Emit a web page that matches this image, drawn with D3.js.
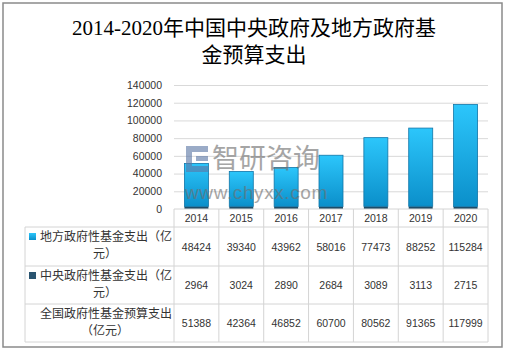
<!DOCTYPE html>
<html>
<head>
<meta charset="utf-8">
<script src="https://cdn.jsdelivr.net/npm/d3@7"></script>
<style>
  body { margin: 0; background: #fff; }
  text { font-family: "Liberation Sans", "Noto Sans CJK SC", sans-serif; fill: #333; }
</style>
</head>
<body>
<div id="chart"></div>
<script>
// chart data
const years = ["2014", "2015", "2016", "2017", "2018", "2019", "2020"];
const localFund = [48424, 39340, 43962, 58016, 77473, 88252, 115284];
const centralFund = [2964, 3024, 2890, 2684, 3089, 3113, 2715];
const totalFund = [51388, 42364, 46852, 60700, 80562, 91365, 117999];
const yTicks = [0, 20000, 40000, 60000, 80000, 100000, 120000, 140000];
const titleLines = ["2014-2020年中国中央政府及地方政府基", "金预算支出"];
const rowLabels = [
  ["地方政府性基金支出（亿", "元）"],
  ["中央政府性基金支出（亿", "元）"],
  ["全国政府性基金预算支出", "（亿元）"]
];

function draw() {
  const width = 509, height = 353;

  const svg = d3.select("#chart")
    .append("svg")
    .attr("width", width)
    .attr("height", height);

  const defs = svg.append("defs");
  const grad = defs.append("linearGradient")
    .attr("id", "barGrad")
    .attr("x1", 0).attr("y1", 0).attr("x2", 0).attr("y2", 1);
  grad.append("stop").attr("offset", "0%").attr("stop-color", "#2cc6fb");
  grad.append("stop").attr("offset", "100%").attr("stop-color", "#0b8fca");

  // outer frame
  svg.append("rect")
    .attr("x", 3).attr("y", 3)
    .attr("width", 499).attr("height", 344)
    .attr("fill", "none")
    .attr("stroke", "#8a8a8a")
    .attr("stroke-width", 1.5);

  // title
  svg.append("g")
    .selectAll("text")
    .data(titleLines)
    .join("text")
    .attr("x", 254)
    .attr("y", (d, i) => 28 + i * 27)
    .attr("text-anchor", "middle")
    .attr("dominant-baseline", "central")
    .style("font-family", "'Liberation Serif', 'Noto Sans CJK SC', serif")
    .style("font-size", "21px")
    .style("fill", "#000")
    .text(d => d);

  // scales
  const left = 174, right = 488;
  const xScale = d3.scaleBand()
    .domain(years)
    .range([left, right])
    .paddingInner(0.465)
    .paddingOuter(0.2325);

  const colScale = d3.scaleBand()
    .domain(years)
    .range([left, right]);

  const yScale = d3.scaleLinear()
    .domain([0, 140000])
    .range([209, 85]);

  // gridlines
  svg.append("g")
    .attr("transform", `translate(${left},0)`)
    .call(d3.axisRight(yScale).tickValues(yTicks.slice(1)).tickSize(right - left).tickFormat(""))
    .call(g => g.select(".domain").remove())
    .call(g => g.selectAll("line").attr("stroke", "#d9d9d9"));

  // y axis labels
  const yAxis = svg.append("g")
    .attr("transform", `translate(${left},0)`)
    .call(d3.axisLeft(yScale).tickValues(yTicks).tickSize(0).tickPadding(12).tickFormat(d3.format("d")));
  yAxis.select(".domain").remove();
  yAxis.selectAll("text")
    .style("font-size", "10.5px")
    .style("fill", "#333");

  // stacked bars: central at the bottom, local on top
  const rows = years.map((y, i) => ({ year: y, central: centralFund[i], local: localFund[i] }));
  const stacked = d3.stack().keys(["central", "local"])(rows);
  const fills = { central: "#1d4c68", local: "url(#barGrad)" };

  svg.append("g")
    .selectAll("g")
    .data(stacked)
    .join("g")
    .attr("fill", d => fills[d.key])
    .attr("stroke", d => d.key === "local" ? "#1176a8" : "none")
    .attr("stroke-width", 0.8)
    .selectAll("rect")
    .data(d => d)
    .join("rect")
    .attr("x", d => xScale(d.data.year))
    .attr("y", d => yScale(d[1]))
    .attr("width", xScale.bandwidth())
    .attr("height", d => yScale(d[0]) - yScale(d[1]));

  // watermark
  const wm = svg.append("g").attr("opacity", 0.62);
  wm.append("path")
    .attr("d", "M186,146h22v6h-16v14h16v6h-22z M196,156h12v5h-12z")
    .attr("fill", "#5d78a6");
  wm.append("text")
    .attr("x", 212).attr("y", 159)
    .attr("dominant-baseline", "central")
    .style("font-size", "27px")
    .style("fill", "#6f6f6f")
    .text("智研咨询");
  wm.append("text")
    .attr("x", 185).attr("y", 192)
    .attr("dominant-baseline", "central")
    .style("font-size", "19px")
    .style("letter-spacing", "0.6px")
    .style("fill", "#6f6f6f")
    .text("www.chyxx.com");

  // data table
  const rowTops = [227, 266, 304, 342];
  const gridColor = "#d4d4d4";
  const table = svg.append("g");

  table.append("line")
    .attr("x1", left).attr("x2", right)
    .attr("y1", 209).attr("y2", 209)
    .attr("stroke", gridColor);
  table.selectAll(".hline")
    .data(rowTops)
    .join("line")
    .attr("x1", 25).attr("x2", right)
    .attr("y1", d => d).attr("y2", d => d)
    .attr("stroke", gridColor);
  table.selectAll(".vline")
    .data(years.concat(["end"]))
    .join("line")
    .attr("x1", (d, i) => left + i * colScale.step())
    .attr("x2", (d, i) => left + i * colScale.step())
    .attr("y1", 209).attr("y2", 342)
    .attr("stroke", gridColor);
  table.append("line")
    .attr("x1", 25).attr("x2", 25)
    .attr("y1", 227).attr("y2", 342)
    .attr("stroke", gridColor);

  // header years
  table.selectAll(".year")
    .data(years)
    .join("text")
    .attr("x", d => colScale(d) + colScale.bandwidth() / 2)
    .attr("y", 218)
    .attr("text-anchor", "middle")
    .attr("dominant-baseline", "central")
    .style("font-size", "10.5px")
    .text(d => d);

  // values
  const series = [localFund, centralFund, totalFund];
  series.forEach((vals, r) => {
    const cy = (rowTops[r] + rowTops[r + 1]) / 2;
    table.selectAll(`.val${r}`)
      .data(vals)
      .join("text")
      .attr("x", (d, i) => colScale(years[i]) + colScale.bandwidth() / 2)
      .attr("y", cy)
      .attr("text-anchor", "middle")
      .attr("dominant-baseline", "central")
      .style("font-size", "10.5px")
      .text(d => d);
  });

  // row labels with legend keys
  const keyFills = ["url(#barGrad)", "#2a5470", null];
  rowLabels.forEach((lines, r) => {
    const top = rowTops[r];
    table.append("text")
      .attr("x", 172).attr("y", top + 9.5)
      .attr("text-anchor", "end")
      .attr("dominant-baseline", "central")
      .style("font-size", "12px")
      .text(lines[0]);
    table.append("text")
      .attr("x", 105).attr("y", top + 27)
      .attr("text-anchor", "middle")
      .attr("dominant-baseline", "central")
      .style("font-size", "12px")
      .text(lines[1]);
    if (keyFills[r]) {
      table.append("rect")
        .attr("x", 29).attr("y", top + 6)
        .attr("width", 7).attr("height", 7)
        .attr("fill", keyFills[r]);
    }
  });
}

draw();
</script>
</body>
</html>
